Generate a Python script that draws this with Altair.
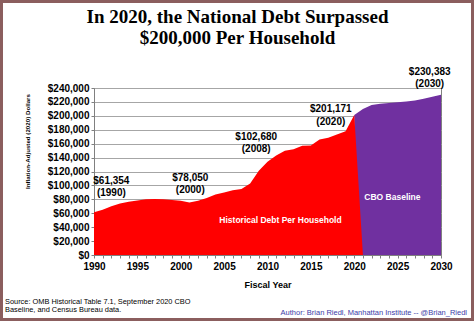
import altair as alt
import pandas as pd

# Historical debt per household (inflation-adjusted 2020 dollars)
hist_years = list(range(1990, 2021))
hist_values = [61354, 65000, 70000, 74000, 76500, 78500, 80000, 80500, 80000, 79000,
               78050, 75500, 78000, 82000, 87000, 90000, 93000, 95000, 102680, 121000,
               134000, 143000, 150000, 152000, 157000, 157500, 166000, 168500, 173000, 178000,
               201171]
# CBO baseline projection
cbo_years = list(range(2020, 2031))
cbo_values = [201171, 210000, 215500, 217500, 218500, 219500, 220500, 222000, 224500, 227500, 230383]

ann_text = [["$61,354", "(1990)"], ["$78,050", "(2000)"], ["$102,680", "(2008)"],
            ["$201,171", "(2020)"], ["$230,383", "(2030)"]]
ann_x = [1992.0, 2001.1, 2008.7, 2017.3, 2028.7]
ann_y = [106800, 110700, 169600, 209800, 263400]

inner_text = ["Historical Debt Per Household", "CBO Baseline"]
inner_x = [2011.5, 2024.4]
inner_y = [50300, 83800]

title_lines = ["In 2020, the National Debt Surpassed", "$200,000 Per Household"]
source_lines = ["Source: OMB Historical Table 7.1, September 2020 CBO", "Baseline, and Census Bureau data."]
author_line = "Author: Brian Riedl, Manhattan Institute -- @Brian_Riedl"

RED = "#ff0000"
PURPLE = "#7030a0"

hist_df = pd.DataFrame({"year": hist_years + [2021], "value": hist_values + [0]})
cbo_df = pd.DataFrame({"year": cbo_years, "value": cbo_values})
ann_df = pd.DataFrame({"year": ann_x, "value": ann_y, "label": ann_text})
inner_df = pd.DataFrame({"year": inner_x, "value": inner_y, "label": inner_text})

x_scale = alt.Scale(domain=[1990, 2030], nice=False, zero=False)
y_scale = alt.Scale(domain=[0, 240000], nice=False)

x_axis = alt.Axis(
    title="Fiscal Year", values=list(range(1990, 2031)),
    labelExpr="datum.value % 5 == 0 ? datum.value : ''",
    labelFont="Liberation Sans", labelFontWeight="bold", labelFontSize=10, labelColor="#000000",
    labelPadding=3, labelFlush=False, labelOverlap=False, labelBound=False,
    titleFont="Liberation Sans", titleFontWeight="bold", titleFontSize=9, titleColor="#000000",
    titlePadding=9, tickSize=3, tickColor="#808080", domainColor="#808080", grid=False,
)
y_axis = alt.Axis(
    title="Inflation-Adjusted (2020) Dollars", values=list(range(0, 240001, 20000)),
    format="$,.0f", labelFont="Liberation Sans", labelFontWeight="bold", labelFontSize=10,
    labelColor="#000000", labelPadding=2, labelOverlap=False, labelBound=False, labelFlush=False,
    titleFont="Liberation Sans", titleFontWeight="bold", titleFontSize=6.2, titleColor="#000000",
    titlePadding=17, titleY=53, tickSize=3, tickColor="#808080", domainColor="#808080",
    grid=True, gridColor="#a6a6a6", gridWidth=1,
)

X = alt.X("year:Q", scale=x_scale, axis=x_axis)
Y = alt.Y("value:Q", scale=y_scale, axis=y_axis)

cbo = alt.Chart(cbo_df).mark_area(color=PURPLE, opacity=1).encode(x=X, y=Y)
hist = alt.Chart(hist_df).mark_area(color=RED, opacity=1).encode(x=X, y=Y)
ann = alt.Chart(ann_df).mark_text(
    font="Liberation Sans", fontWeight="bold", fontSize=10, color="#000000",
    align="center", baseline="middle", lineHeight=12.5,
).encode(x=X, y=Y, text="label:N")

inner = alt.Chart(inner_df).mark_text(
    font="Liberation Sans", fontWeight="bold", fontSize=8.5, color="#ffffff",
    align="center", baseline="middle",
).encode(x=X, y=Y, text="label:N")

one = pd.DataFrame({"a": [0]})

title = alt.Chart(one).mark_text(
    text=title_lines, font="Liberation Serif", fontWeight="bold", fontSize=19, color="#000000",
    align="center", baseline="alphabetic", lineHeight=21,
).encode(x=alt.value(143.5), y=alt.value(-65.5))

source = alt.Chart(one).mark_text(
    text=source_lines, font="Liberation Sans", fontSize=7.4, color="#000000",
    align="left", baseline="middle", lineHeight=8.5,
).encode(x=alt.value(-89), y=alt.value(213.5))

author = alt.Chart(one).mark_text(
    text=author_line, font="Liberation Sans", fontSize=7.5, color="#3c3ca8",
    align="right", baseline="middle",
).encode(x=alt.value(373), y=alt.value(225))

border = alt.Chart(one).mark_rect(
    filled=False, stroke="#8b5e5e", strokeWidth=3,
).encode(x=alt.value(-92.5), x2=alt.value(378.5), y=alt.value(-86.5), y2=alt.value(231.5))

chart = alt.layer(cbo, hist, ann, inner, title, source, author, border).properties(
    width=347, height=167,
    autosize=alt.AutoSizeParams(type="none"),
    padding={"left": 94, "top": 88, "right": 34, "bottom": 67},
    background="#ffffff",
).configure_view(stroke="#808080", strokeWidth=1)

chart.save("out.html", embed_options={"renderer": "svg", "actions": False})
